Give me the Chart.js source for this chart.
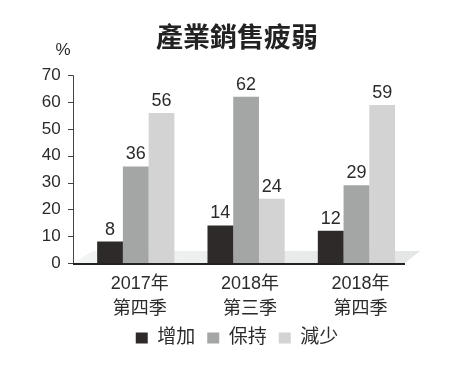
<!DOCTYPE html>
<html>
<head>
<meta charset="utf-8">
<script src="https://cdn.jsdelivr.net/npm/chart.js@4/dist/chart.umd.min.js"></script>
<style>
  html, body { margin:0; padding:0; background:#fff; }
  #wrap { width:456px; height:367px; }
</style>
</head>
<body>
<div id="wrap"><canvas id="c"></canvas></div>
<script>
const categories = [['2017年', '第四季'], ['2018年', '第三季'], ['2018年', '第四季']];
const seriesNames = ['增加', '保持', '減少'];
const increase = [8, 14, 12];
const keep = [36, 62, 29];
const decrease = [56, 24, 59];
const yMax = 70, yStep = 10;

const FONT = "'Liberation Sans', 'Noto Sans CJK TC', sans-serif";
const INK = '#2b2b2b';

// floor, axis lines, value labels, % unit
const decor = {
  id: 'decor',
  beforeDatasetsDraw(chart) {
    const { ctx } = chart, y = chart.scales.y;
    const x0 = 73, yb = y.getPixelForValue(0);
    ctx.save();
    const g = ctx.createLinearGradient(x0, 0, 420, 0);
    g.addColorStop(0, '#f3f4f4'); g.addColorStop(1, '#e4e6e6');
    ctx.fillStyle = g;
    ctx.beginPath();
    ctx.moveTo(x0, yb); ctx.lineTo(x0 + 20, yb - 12); ctx.lineTo(420, yb - 12); ctx.lineTo(405, yb);
    ctx.closePath(); ctx.fill();
    ctx.restore();
  },
  afterDatasetsDraw(chart) {
    const { ctx } = chart, y = chart.scales.y;
    const x0 = 73, yb = y.getPixelForValue(0);
    ctx.save();
    // y axis + ticks
    ctx.strokeStyle = '#444'; ctx.lineWidth = 1;
    ctx.beginPath();
    ctx.moveTo(x0 + 0.5, y.getPixelForValue(yMax)); ctx.lineTo(x0 + 0.5, yb);
    y.ticks.forEach(t => {
      const py = Math.round(y.getPixelForValue(t.value)) + 0.5;
      ctx.moveTo(x0 - 5, py); ctx.lineTo(x0 + 0.5, py);
    });
    ctx.stroke();
    // x axis
    ctx.strokeStyle = '#222'; ctx.lineWidth = 2;
    ctx.beginPath(); ctx.moveTo(x0, yb + 1); ctx.lineTo(405, yb + 1); ctx.stroke();
    // value labels
    ctx.fillStyle = INK; ctx.font = '18px ' + FONT;
    ctx.textAlign = 'center'; ctx.textBaseline = 'bottom';
    chart.data.datasets.forEach((ds, i) => {
      chart.getDatasetMeta(i).data.forEach((bar, j) => {
        ctx.fillText(String(ds.data[j]), bar.x, bar.y - 3);
      });
    });
    // unit
    ctx.font = '17px ' + FONT; ctx.textBaseline = 'middle';
    ctx.fillText('%', 63, 50);
    ctx.restore();
  }
};

new Chart(document.getElementById('c'), {
  type: 'bar',
  data: {
    labels: categories,
    datasets: [
      { label: seriesNames[0], data: increase, backgroundColor: '#2f2a2a' },
      { label: seriesNames[1], data: keep, backgroundColor: '#a4a5a5' },
      { label: seriesNames[2], data: decrease, backgroundColor: '#d3d3d3' },
    ],
  },
  options: {
    responsive: true, maintainAspectRatio: false, animation: false,
    layout: { padding: { left: 18, right: 0, top: 0, bottom: 9.5 } },
    datasets: { bar: { categoryPercentage: 0.7, barPercentage: 1, borderWidth: 0 } },
    plugins: {
      title: { display: true, text: '產業銷售疲弱', color: '#222',
        font: { family: "'Noto Sans CJK TC', sans-serif", size: 27, weight: 'bold' },
        padding: { top: 21, bottom: 22 } },
      legend: { position: 'bottom',
        labels: { color: INK, boxWidth: 12, boxHeight: 11, padding: 12, font: { size: 19, family: FONT } } },
      tooltip: { enabled: false },
    },
    scales: {
      x: {
        grid: { display: false, drawTicks: false }, border: { display: false },
        ticks: { color: INK, padding: 8, labelOffset: 4, font: { size: 18, family: FONT, lineHeight: 1.4 } },
        afterFit: s => { s.height = 53.5; },
      },
      y: {
        min: 0, max: yMax,
        grid: { display: false, drawTicks: false }, border: { display: false },
        ticks: { stepSize: yStep, color: INK, padding: 20, font: { size: 17, family: FONT } },
        afterFit: s => { s.width = 62.6; },
      },
      y2: {
        position: 'right', grid: { display: false, drawTicks: false }, border: { display: false },
        ticks: { display: false },
        afterFit: s => { s.width = 44.4; },
      },
    },
  },
  plugins: [decor],
});
</script>
</body>
</html>
